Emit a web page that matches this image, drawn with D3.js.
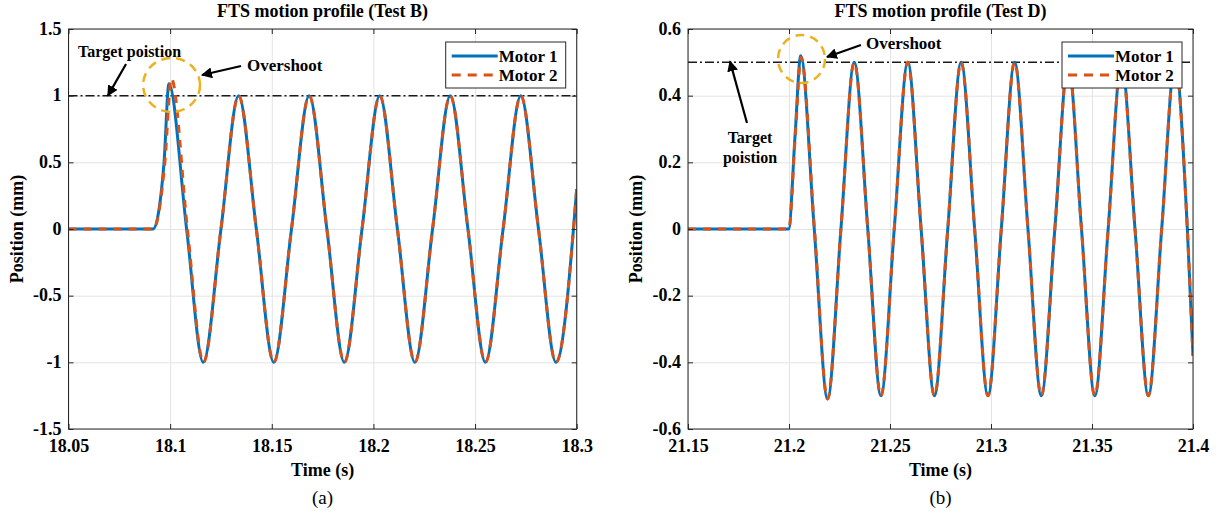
<!DOCTYPE html>
<html>
<head>
<meta charset="utf-8">
<script src="https://cdn.jsdelivr.net/npm/d3@7"></script>
<style>
  body { margin: 0; background: #fff; }
  svg text { font-family: "Liberation Serif", "Times New Roman", serif; fill: #000; }
  .tick text { font-weight: bold; font-size: 18px; }
  .grid line { stroke: #e3e3e3; stroke-width: 1; }
  .grid .domain { display: none; }
</style>
</head>
<body>
<svg id="chart" width="1232" height="523"></svg>
<script>
// values
const testBTimeTicks = [18.05, 18.1, 18.15, 18.2, 18.25, 18.3];
const testBPosTicks = [-1.5, -1, -0.5, 0, 0.5, 1, 1.5];
const testDTimeTicks = [21.15, 21.2, 21.25, 21.3, 21.35, 21.4];
const testDPosTicks = [-0.6, -0.4, -0.2, 0, 0.2, 0.4, 0.6];
const seriesNames = ["Motor 1", "Motor 2"];
const targetPositions = [1, 0.5];

// [time (s), position (mm)]
const testBMotor1 = [
  [18.05, 0], [18.0916, 0], [18.0970, 0.5], [18.0994, 1.09], [18.1081, 0],
  [18.1163, -1], [18.1250, 0], [18.1337, 1], [18.1424, 0],
  [18.1510, -1], [18.1597, 0], [18.1684, 1], [18.1771, 0],
  [18.1857, -1], [18.1944, 0], [18.2031, 1], [18.2118, 0],
  [18.2204, -1], [18.2291, 0], [18.2378, 1], [18.2465, 0],
  [18.2551, -1], [18.2638, 0], [18.2725, 1], [18.2812, 0],
  [18.2898, -1], [18.3, 0.3]
];
const testBMotor2 = [
  [18.05, 0], [18.0918, 0], [18.0974, 0.5], [18.1006, 1.13], [18.1085, 0],
  [18.1164, -1], [18.1250, 0], [18.1337, 1], [18.1424, 0],
  [18.1510, -1], [18.1597, 0], [18.1684, 1], [18.1771, 0],
  [18.1857, -1], [18.1944, 0], [18.2031, 1], [18.2118, 0],
  [18.2204, -1], [18.2291, 0], [18.2378, 1], [18.2465, 0],
  [18.2551, -1], [18.2638, 0], [18.2725, 1], [18.2812, 0],
  [18.2898, -1], [18.3, 0.3]
];
const testDMotor1 = [
  [21.15, 0], [21.1998, 0], [21.2030, 0.28], [21.2058, 0.52], [21.2125, 0],
  [21.2191, -0.51], [21.2257, 0], [21.2323, 0.5], [21.2390, 0],
  [21.2455, -0.5], [21.2521, 0], [21.2588, 0.5], [21.2654, 0],
  [21.2720, -0.5], [21.2786, 0], [21.2852, 0.5], [21.2919, 0],
  [21.2985, -0.5], [21.3051, 0], [21.3117, 0.5], [21.3183, 0],
  [21.3249, -0.5], [21.3316, 0], [21.3382, 0.5], [21.3448, 0],
  [21.3514, -0.5], [21.3580, 0], [21.3646, 0.5], [21.3713, 0],
  [21.3779, -0.5], [21.3845, 0], [21.3911, 0.5], [21.3972, 0],
  [21.4, -0.38]
];
const testDMotor2 = [
  [21.15, 0], [21.1999, 0], [21.2031, 0.28], [21.2060, 0.515], [21.2126, 0],
  [21.2191, -0.51], [21.2257, 0], [21.2323, 0.5], [21.2390, 0],
  [21.2455, -0.5], [21.2521, 0], [21.2588, 0.5], [21.2654, 0],
  [21.2720, -0.5], [21.2786, 0], [21.2852, 0.5], [21.2919, 0],
  [21.2985, -0.5], [21.3051, 0], [21.3117, 0.5], [21.3183, 0],
  [21.3249, -0.5], [21.3316, 0], [21.3382, 0.5], [21.3448, 0],
  [21.3514, -0.5], [21.3580, 0], [21.3646, 0.5], [21.3713, 0],
  [21.3779, -0.5], [21.3845, 0], [21.3911, 0.5], [21.3972, 0],
  [21.4, -0.38]
];

const svg = d3.select('#chart');

// arrowhead used by the annotations
svg.append('defs').append('marker')
  .attr('id', 'arrow')
  .attr('viewBox', '0 0 10 10')
  .attr('refX', 9).attr('refY', 5)
  .attr('markerWidth', 5).attr('markerHeight', 5)
  .attr('markerUnits', 'strokeWidth')
  .attr('orient', 'auto')
  .append('path')
  .attr('d', 'M0,0 L10,5 L0,10 z')
  .attr('fill', '#000');

class MotionProfile {
  constructor(_config) {
    this.config = {
      id: _config.id,
      left: _config.left,
      width: _config.width,
      top: 29,
      height: 400,
    };
    this.title = _config.title;
    this.caption = _config.caption;
    this.timeTicks = _config.timeTicks;
    this.posTicks = _config.posTicks;
    this.motors = _config.motors;
    this.target = _config.target;
    this.notes = _config.notes;
    this.initVis();
  }

  initVis() {
    let vis = this;
    const c = vis.config;

    vis.x = d3.scaleLinear()
      .domain(d3.extent(vis.timeTicks))
      .range([0, c.width]);
    vis.y = d3.scaleLinear()
      .domain(d3.extent(vis.posTicks))
      .range([c.height, 0]);

    vis.g = svg.append('g')
      .attr('transform', `translate(${c.left},${c.top})`);

    vis.g.append('clipPath').attr('id', 'clip-' + c.id)
      .append('rect').attr('width', c.width).attr('height', c.height);

    vis.g.append('g').attr('class', 'grid')
      .attr('transform', `translate(0,${c.height})`)
      .call(d3.axisBottom(vis.x).tickValues(vis.timeTicks).tickSize(-c.height).tickFormat(''));
    vis.g.append('g').attr('class', 'grid')
      .call(d3.axisLeft(vis.y).tickValues(vis.posTicks).tickSize(-c.width).tickFormat(''));

    vis.update();
  }

  update() {
    let vis = this;
    const c = vis.config;
    const fmt = d => String(d);

    const plot = vis.g.append('g').attr('clip-path', `url(#clip-${c.id})`);

    plot.append('line')
      .attr('x1', 0).attr('x2', c.width)
      .attr('y1', vis.y(vis.target)).attr('y2', vis.y(vis.target))
      .attr('stroke', '#1a1a1a')
      .attr('stroke-width', 1.5)
      .attr('stroke-dasharray', '9,3,2,3');

    const line = d3.line()
      .x(d => vis.x(d[0]))
      .y(d => vis.y(d[1]))
      .curve(d3.curveMonotoneX);

    plot.append('path')
      .datum(vis.motors[0])
      .attr('d', line)
      .attr('fill', 'none')
      .attr('stroke', '#0072BD')
      .attr('stroke-width', 3);

    plot.append('path')
      .datum(vis.motors[1])
      .attr('d', line)
      .attr('fill', 'none')
      .attr('stroke', '#D95319')
      .attr('stroke-width', 3)
      .attr('stroke-dasharray', '8,7');

    // box with inward ticks on all four sides
    vis.g.append('rect')
      .attr('width', c.width).attr('height', c.height)
      .attr('fill', 'none').attr('stroke', '#262626').attr('stroke-width', 1);

    vis.g.append('g')
      .attr('transform', `translate(0,${c.height})`)
      .call(d3.axisBottom(vis.x).tickValues(vis.timeTicks).tickFormat(fmt)
        .tickSizeInner(-5).tickSizeOuter(0).tickPadding(10))
      .call(g => g.select('.domain').remove());
    vis.g.append('g')
      .call(d3.axisTop(vis.x).tickValues(vis.timeTicks).tickFormat('')
        .tickSizeInner(-5).tickSizeOuter(0))
      .call(g => g.select('.domain').remove());
    vis.g.append('g')
      .call(d3.axisLeft(vis.y).tickValues(vis.posTicks).tickFormat(fmt)
        .tickSizeInner(-5).tickSizeOuter(0).tickPadding(7))
      .call(g => g.select('.domain').remove())
      .call(g => g.selectAll('.tick text').attr('dy', '0.28em'));
    vis.g.append('g')
      .attr('transform', `translate(${c.width},0)`)
      .call(d3.axisRight(vis.y).tickValues(vis.posTicks).tickFormat('')
        .tickSizeInner(-5).tickSizeOuter(0))
      .call(g => g.select('.domain').remove());
    vis.g.selectAll('.tick line').attr('stroke', '#262626');

    // texts
    vis.g.append('text')
      .attr('x', c.width / 2).attr('y', -12)
      .attr('text-anchor', 'middle')
      .attr('font-weight', 'bold').attr('font-size', 18)
      .text(vis.title);
    vis.g.append('text')
      .attr('x', c.width / 2).attr('y', c.height + 47)
      .attr('text-anchor', 'middle')
      .attr('font-weight', 'bold').attr('font-size', 18)
      .text('Time (s)');
    vis.g.append('text')
      .attr('x', c.width / 2).attr('y', c.height + 75)
      .attr('text-anchor', 'middle')
      .attr('font-size', 19)
      .text(vis.caption);
    vis.g.append('text')
      .attr('transform', `translate(${-46},${c.height / 2}) rotate(-90)`)
      .attr('text-anchor', 'middle')
      .attr('font-weight', 'bold').attr('font-size', 18)
      .text('Position (mm)');

    vis.renderNotes();
    vis.renderLegend();
  }

  renderNotes() {
    let vis = this;
    const n = vis.notes;

    vis.g.append('ellipse')
      .attr('cx', vis.x(n.circle[0])).attr('cy', vis.y(n.circle[1]))
      .attr('rx', vis.x(n.circle[0] + n.circle[2]) - vis.x(n.circle[0]))
      .attr('ry', vis.y(n.circle[1]) - vis.y(n.circle[1] + n.circle[3]))
      .attr('fill', 'none')
      .attr('stroke', '#EDB120')
      .attr('stroke-width', 2.5)
      .attr('stroke-dasharray', '9,6');

    n.arrows.forEach(a => {
      vis.g.append('line')
        .attr('x1', vis.x(a[0])).attr('y1', vis.y(a[1]))
        .attr('x2', vis.x(a[2])).attr('y2', vis.y(a[3]))
        .attr('stroke', '#000')
        .attr('stroke-width', 2.2)
        .attr('marker-end', 'url(#arrow)');
    });

    n.labels.forEach(l => {
      vis.g.append('text')
        .attr('x', vis.x(l.at[0])).attr('y', vis.y(l.at[1]))
        .attr('text-anchor', l.anchor)
        .attr('dominant-baseline', 'central')
        .attr('font-weight', 'bold')
        .attr('font-size', l.size)
        .text(l.text);
    });
  }

  renderLegend() {
    let vis = this;
    const c = vis.config;
    const w = 120, h = 46;
    const lg = vis.g.append('g')
      .attr('transform', `translate(${c.width - w - 11},${13})`);

    lg.append('rect')
      .attr('width', w).attr('height', h)
      .attr('fill', '#fff').attr('stroke', '#262626').attr('stroke-width', 1);

    seriesNames.forEach((name, i) => {
      const yy = 14 + i * 19;
      lg.append('line')
        .attr('x1', 6).attr('x2', 52)
        .attr('y1', yy).attr('y2', yy)
        .attr('stroke', i === 0 ? '#0072BD' : '#D95319')
        .attr('stroke-width', 3)
        .attr('stroke-dasharray', i === 0 ? null : '9,7');
      lg.append('text')
        .attr('x', 53).attr('y', yy)
        .attr('dominant-baseline', 'central')
        .attr('font-weight', 'bold').attr('font-size', 17)
        .text(name);
    });
  }
}

new MotionProfile({
  id: 'b',
  left: 68.5,
  width: 508.2,
  title: 'FTS motion profile (Test B)',
  caption: '(a)',
  timeTicks: testBTimeTicks,
  posTicks: testBPosTicks,
  motors: [testBMotor1, testBMotor2],
  target: targetPositions[0],
  notes: {
    circle: [18.1007, 1.08, 0.0140, 0.2025],
    arrows: [
      [18.0783, 1.2375, 18.0694, 1.0],
      [18.1349, 1.2225, 18.1157, 1.155]
    ],
    labels: [
      {text: 'Target poistion', at: [18.0547, 1.33], anchor: 'start', size: 16},
      {text: 'Overshoot', at: [18.1378, 1.23], anchor: 'start', size: 17}
    ]
  }
});

new MotionProfile({
  id: 'd',
  left: 688,
  width: 505,
  title: 'FTS motion profile (Test D)',
  caption: '(b)',
  timeTicks: testDTimeTicks,
  posTicks: testDPosTicks,
  motors: [testDMotor1, testDMotor2],
  target: targetPositions[1],
  notes: {
    circle: [21.2062, 0.51, 0.01163, 0.072],
    arrows: [
      [21.1792, 0.318, 21.1708, 0.503],
      [21.2356, 0.552, 21.2188, 0.516]
    ],
    labels: [
      {text: 'Target', at: [21.1807, 0.276], anchor: 'middle', size: 16},
      {text: 'poistion', at: [21.1807, 0.216], anchor: 'middle', size: 16},
      {text: 'Overshoot', at: [21.2381, 0.558], anchor: 'start', size: 17}
    ]
  }
});
</script>
</body>
</html>
